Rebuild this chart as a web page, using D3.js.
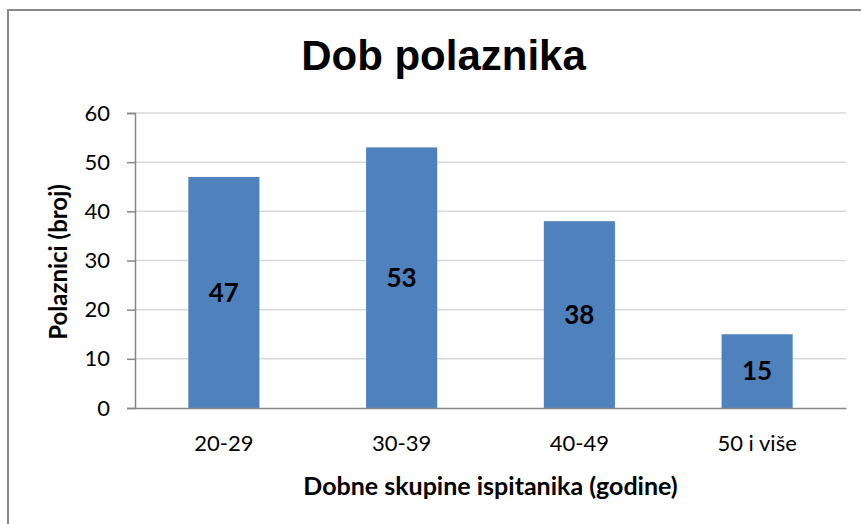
<!DOCTYPE html>
<html>
<head>
<meta charset="utf-8">
<script src="https://cdn.jsdelivr.net/npm/d3@7"></script>
<style>
  html, body { margin: 0; padding: 0; background: #fff; }
  svg { display: block; }
</style>
</head>
<body>
<div id="chart-container"></div>
<script>
const chartTitle = 'Dob polaznika';
const xTitle = 'Dobne skupine ispitanika (godine)';
const yTitle = 'Polaznici (broj)';

const categories = ['20-29', '30-39', '40-49', '50 i više'];
const values = [47, 53, 38, 15];
const yTicks = [0, 10, 20, 30, 40, 50, 60];

const chartWidth = 861;
const chartHeight = 524;
const margin = { top: 113, right: 15, bottom: 116, left: 135 };

const drawChart = () => {
  const svg = d3
    .select('#chart-container')
    .append('svg')
    .attr('width', chartWidth)
    .attr('height', chartHeight);

  // outer frame (cropped at right/bottom)
  svg
    .append('rect')
    .attr('x', 8)
    .attr('y', 10)
    .attr('width', chartWidth + 10)
    .attr('height', chartHeight + 10)
    .attr('fill', 'none')
    .attr('stroke', '#898989')
    .attr('stroke-width', 2);

  const plotW = chartWidth - margin.left - margin.right;
  const plotH = chartHeight - margin.top - margin.bottom;

  const x = d3.scaleBand().domain(categories).range([0, plotW]);
  const y = d3.scaleLinear().domain([0, 60]).range([plotH, 0]);

  const g = svg
    .append('g')
    .attr('transform', `translate(${margin.left},${margin.top})`);

  // gridlines
  g.append('g')
    .selectAll('line')
    .data(yTicks.filter((d) => d > 0))
    .enter()
    .append('line')
    .attr('x1', 0)
    .attr('x2', plotW)
    .attr('y1', (d) => y(d))
    .attr('y2', (d) => y(d))
    .attr('stroke', '#d9d9d9')
    .attr('stroke-width', 1.5);

  // bars
  const barW = x.bandwidth() * 0.4;
  g.selectAll('rect.bar')
    .data(values)
    .enter()
    .append('rect')
    .attr('class', 'bar')
    .attr('fill', '#4f81bd')
    .attr('x', (d, i) => x(categories[i]) + (x.bandwidth() - barW) / 2)
    .attr('y', (d) => y(d))
    .attr('width', barW)
    .attr('height', (d) => plotH - y(d));

  // data labels
  g.selectAll('text.val')
    .data(values)
    .enter()
    .append('text')
    .attr('class', 'val')
    .attr('x', (d, i) => x(categories[i]) + x.bandwidth() / 2)
    .attr('y', (d) => y(d / 2))
    .attr('dy', '0.36em')
    .attr('text-anchor', 'middle')
    .style('font-family', 'Lato, sans-serif')
    .style('font-weight', 'bold')
    .style('font-size', '26px')
    .style('fill', '#000')
    .text((d) => d);

  // y axis
  const yAxis = d3.axisLeft(y).tickValues(yTicks).tickSize(8).tickPadding(17);
  const ya = g.append('g').call(yAxis);
  ya.select('.domain').attr('stroke', '#868686').attr('stroke-width', 1.5);
  ya.selectAll('.tick line').attr('stroke', '#868686').attr('stroke-width', 1.5);
  ya.selectAll('text')
    .style('font-family', 'Lato, sans-serif')
    .style('font-size', '22px')
    .style('fill', '#000');

  // x axis
  const xAxis = d3.axisBottom(x).tickSize(0).tickPadding(27);
  const xa = g.append('g').attr('transform', `translate(0,${plotH})`).call(xAxis);
  xa.select('.domain').attr('stroke', '#868686').attr('stroke-width', 1.5);
  xa.selectAll('text')
    .style('font-family', 'Lato, sans-serif')
    .style('font-size', '22px')
    .style('fill', '#000');

  // title
  svg
    .append('text')
    .attr('x', 443.5)
    .attr('y', 70)
    .attr('text-anchor', 'middle')
    .style('font-family', '"Liberation Sans", Arial, sans-serif')
    .style('font-weight', 'bold')
    .style('font-size', '42px')
    .text(chartTitle);

  // axis titles
  svg
    .append('text')
    .attr('x', margin.left + plotW / 2)
    .attr('y', 495)
    .attr('text-anchor', 'middle')
    .style('font-family', 'Lato, sans-serif')
    .style('font-weight', 'bold')
    .style('font-size', '25px')
    .text(xTitle);

  svg
    .append('text')
    .attr('transform', 'translate(67,262) rotate(-90)')
    .attr('text-anchor', 'middle')
    .style('font-family', 'Lato, sans-serif')
    .style('font-weight', 'bold')
    .style('font-size', '24px')
    .text(yTitle);
};

drawChart();
</script>
</body>
</html>
